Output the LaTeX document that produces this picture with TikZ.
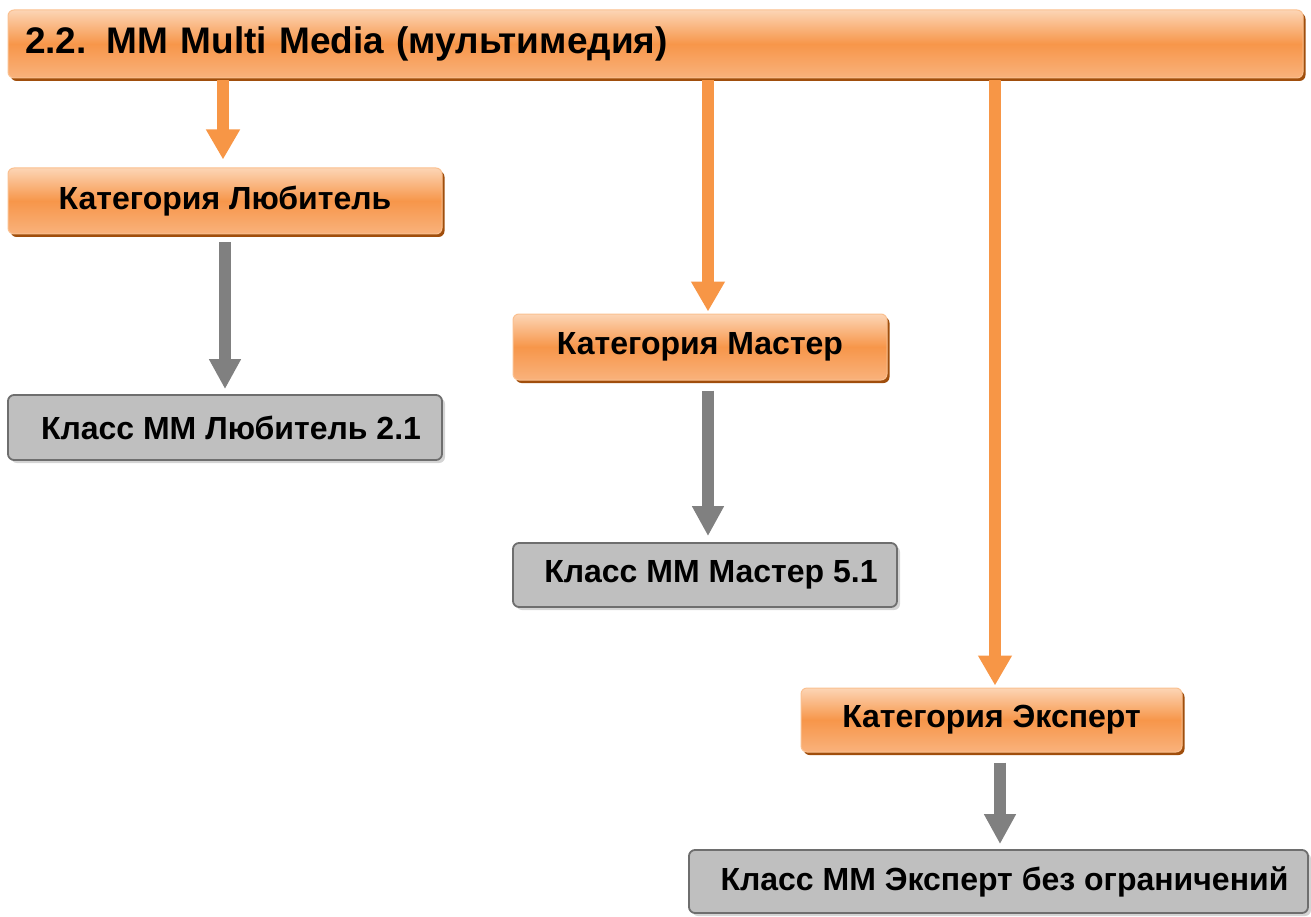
\documentclass[tikz,border=0pt]{standalone}
\usepackage{fontspec}
\setmainfont{Liberation Sans}
\usetikzlibrary{arrows.meta,shadows,calc}
\definecolor{oTop}{HTML}{FCD5B5}
\definecolor{oMid}{HTML}{F7964A}
\definecolor{oBot}{HTML}{F9B27C}
\definecolor{oEdge}{HTML}{FAC090}
\definecolor{oShadow}{HTML}{A04E0C}
\definecolor{oArrow}{HTML}{F79646}
\definecolor{gFill}{HTML}{BFBFBF}
\definecolor{gEdge}{HTML}{6E6E6E}
\definecolor{gShadow}{HTML}{D4D4D4}
\definecolor{gArrow}{HTML}{808080}
\pgfdeclareverticalshading{orangebar}{100bp}{color(0bp)=(oBot); color(25bp)=(oBot); color(50bp)=(oMid); color(75bp)=(oTop); color(100bp)=(oTop)}
\tikzset{
  catbox/.style={rectangle, rounded corners=6pt, shading=orangebar, draw=oEdge, line width=1pt,
    drop shadow={shadow xshift=2.5pt, shadow yshift=-3pt, fill=oShadow, opacity=1},
    font=\bfseries\fontsize{32}{38}\selectfont, inner sep=0pt},
  clsbox/.style={rectangle, rounded corners=6pt, fill=gFill, draw=gEdge, line width=1.8pt,
    drop shadow={shadow xshift=3pt, shadow yshift=-3pt, fill=gShadow, opacity=1},
    font=\bfseries\fontsize{32}{38}\selectfont, inner sep=0pt},
  oarrow/.style={draw=oArrow, line width=12pt, -{Triangle[width=32pt,length=30pt]}},
  garrow/.style={draw=gArrow, line width=12pt, -{Triangle[width=30pt,length=30pt]}},
}
\begin{document}
\begin{tikzpicture}[x=1pt,y=-1pt]
\useasboundingbox (0,0) rectangle (1311,917);
\node[catbox, minimum width=1295pt, minimum height=68pt, text width=1261pt, align=left,
  font=\bfseries\fontsize{37}{44}\selectfont] (title) at (655.5,44) {2.2.\hspace{20pt}MM Multi Media (мультимедия)};
\node[catbox, minimum width=434pt, minimum height=66pt] (cat1) at (225,201) {Категория Любитель};
\node[clsbox, minimum width=434pt, minimum height=65pt] (cls1) at (225,427.5) {\hspace{12pt}Класс ММ Любитель 2.1};
\node[catbox, minimum width=374pt, minimum height=66pt] (cat2) at (700,347) {Категория Мастер};
\node[clsbox, minimum width=384pt, minimum height=64pt] (cls2) at (705,575) {\hspace{12pt}Класс ММ Мастер 5.1};
\node[catbox, minimum width=381pt, minimum height=64pt] (cat3) at (991.5,720) {Категория Эксперт};
\node[clsbox, minimum width=619pt, minimum height=63pt] (cls3) at (998.5,881.5) {\hspace{12pt}Класс ММ Эксперт без ограничений};
% orange arrows
\draw[oarrow, shorten <=2pt, shorten >=8pt] ($(title.south -| cat1.north)+(-2,0)$) -- ($(cat1.north)+(-2,0)$);
\draw[oarrow, shorten <=2pt, shorten >=2pt] ($(title.south -| cat2.north)+(8,0)$) -- ($(cat2.north)+(8,0)$);
\draw[oarrow, shorten <=2pt, shorten >=2pt] ($(title.south -| cat3.north)+(3.5,0)$) -- ($(cat3.north)+(3.5,0)$);
% gray arrows
\draw[garrow, shorten <=8pt, shorten >=5pt] (cat1.south) -- (cls1.north);
\draw[garrow, shorten <=10pt, shorten >=6pt] ($(cat2.south)+(8,0)$) -- ($(cat2.south |- cls2.north)+(8,0)$);
\draw[garrow, shorten <=10pt, shorten >=5pt] ($(cat3.south)+(8.5,0)$) -- ($(cat3.south |- cls3.north)+(8.5,0)$);
\end{tikzpicture}
\end{document}
